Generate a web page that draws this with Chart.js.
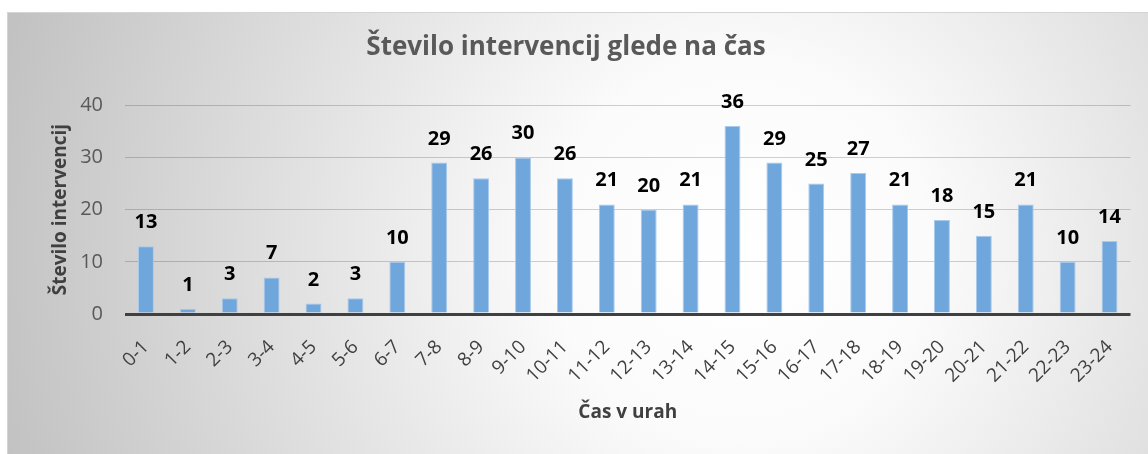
<!DOCTYPE html>
<html>
<head>
    <title>Število intervencij glede na čas</title>
    <script src="https://cdn.jsdelivr.net/npm/chart.js"></script>
    <style>
        body { margin: 0; background: #fff; }
        #wrap { width: 1148px; height: 454px; }
    </style>
</head>
<body>
    <div id="wrap">
        <canvas id="chart" width="1148" height="454"></canvas>
    </div>
    <script>
        // data
        const hours = ['0-1', '1-2', '2-3', '3-4', '4-5', '5-6', '6-7', '7-8', '8-9', '9-10', '10-11', '11-12',
            '12-13', '13-14', '14-15', '15-16', '16-17', '17-18', '18-19', '19-20', '20-21', '21-22', '22-23', '23-24'];
        const interventions = [13, 1, 3, 7, 2, 3, 10, 29, 26, 30, 26, 21, 20, 21, 36, 29, 25, 27, 21, 18, 15, 21, 10, 14];
        const yTicks = [0, 10, 20, 30, 40];

        const FONT = "'Open Sans', sans-serif";

        // grey radial background with a thin frame
        const backdrop = {
            id: 'backdrop',
            beforeDraw(chart) {
                const c = chart.ctx;
                c.save();
                const g = c.createRadialGradient(740, 250, 0, 740, 250, 760);
                g.addColorStop(0, '#ffffff');
                g.addColorStop(0.25, '#fbfbfb');
                g.addColorStop(1, '#c2c2c2');
                c.fillStyle = g;
                c.fillRect(7, 12, chart.width - 7, chart.height - 12);
                c.strokeStyle = '#d4d4d4';
                c.lineWidth = 1;
                c.strokeRect(7.5, 12.5, chart.width, chart.height);
                c.restore();
            }
        };

        // value labels above bars
        const valueLabels = {
            id: 'valueLabels',
            afterDatasetsDraw(chart) {
                const c = chart.ctx;
                const meta = chart.getDatasetMeta(0);
                c.save();
                c.font = 'bold 20px ' + FONT;
                c.fillStyle = '#000000';
                c.textAlign = 'center';
                c.textBaseline = 'alphabetic';
                meta.data.forEach((bar, i) => {
                    c.fillText(String(interventions[i]), bar.x, bar.y - 18);
                });
                c.restore();
            }
        };

        new Chart(document.getElementById('chart'), {
            type: 'bar',
            data: {
                labels: hours,
                datasets: [{
                    data: interventions,
                    backgroundColor: '#6fa6dc',
                    borderColor: '#a8caec',
                    borderWidth: 1,
                    categoryPercentage: 1,
                    barPercentage: 0.38
                }]
            },
            options: {
                responsive: false,
                animation: false,
                layout: { padding: { left: 0, right: 16, top: 0, bottom: 0 } },
                plugins: {
                    legend: { display: false },
                    tooltip: { enabled: false },
                    title: {
                        display: true,
                        text: 'Število intervencij glede na čas',
                        color: '#595959',
                        font: { family: FONT, size: 26, weight: 'bold', lineHeight: 1.2 },
                        padding: { top: 32, bottom: 42 }
                    }
                },
                scales: {
                    x: {
                        grid: { display: false, drawTicks: false },
                        border: { display: false },
                        ticks: {
                            color: '#404040',
                            font: { family: FONT, size: 19 },
                            minRotation: 45,
                            maxRotation: 45,
                            padding: 22,
                            autoSkip: false
                        },
                        title: {
                            display: true,
                            text: 'Čas v urah',
                            color: '#404040',
                            font: { family: FONT, size: 19, weight: 'bold', lineHeight: 1.2 },
                            padding: { top: 0, bottom: 30 }
                        },
                        afterFit(scale) { scale.height = 140; }
                    },
                    y: {
                        min: 0,
                        max: 40,
                        afterBuildTicks(scale) { scale.ticks = yTicks.map(v => ({ value: v })); },
                        grid: {
                            drawTicks: false,
                            color: ctx => ctx.tick.value === 0 ? '#404040' : 'rgba(0,0,0,0.18)',
                            lineWidth: ctx => ctx.tick.value === 0 ? 3 : 1
                        },
                        border: { display: false },
                        ticks: {
                            color: '#595959',
                            font: { family: FONT, size: 20 },
                            padding: 22
                        },
                        title: {
                            display: true,
                            text: 'Število intervencij',
                            color: '#404040',
                            font: { family: FONT, size: 19, weight: 'bold', lineHeight: 1.2 },
                            padding: { top: 49, bottom: 0 }
                        },
                        afterFit(scale) { scale.width = 125; }
                    }
                }
            },
            plugins: [backdrop, valueLabels]
        });
    </script>
</body>
</html>
